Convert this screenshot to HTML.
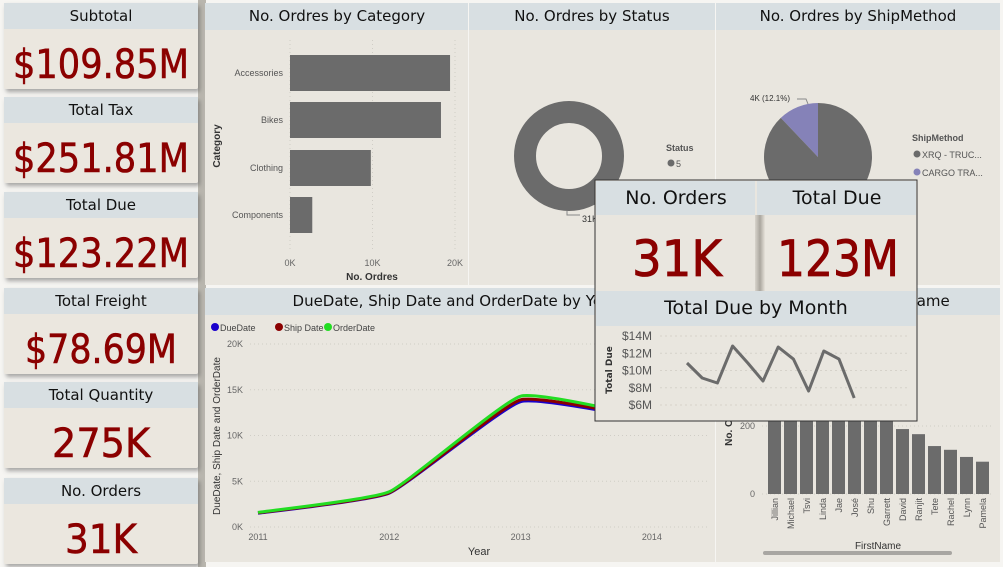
<!DOCTYPE html>
<html><head><meta charset="utf-8"><style>
html,body{margin:0;padding:0;background:#fff;width:1003px;height:567px;overflow:hidden;font-family:"DejaVu Sans","Liberation Sans",sans-serif}
svg{display:block}
.sm{font-family:"Liberation Sans",sans-serif}
</style></head><body>
<svg id="s" width="1003" height="567" viewBox="0 0 1003 567" xmlns="http://www.w3.org/2000/svg">
<defs>
<filter id="sh" x="-10%" y="-10%" width="130%" height="140%"><feDropShadow dx="2" dy="3" stdDeviation="2" flood-color="#555" flood-opacity="0.5"/></filter>
<linearGradient id="dv" x1="0" x2="1"><stop offset="0" stop-color="#d8d4cc"/><stop offset="0.5" stop-color="#aaa69e"/><stop offset="1" stop-color="#e6e2da"/></linearGradient>
</defs>
<rect x="0" y="0" width="1003" height="567" fill="#f6f5f2"/>
<rect x="198" y="0" width="8" height="567" fill="#b9b6ae"/>
<g id="cards"></g>
<g>
<rect x="205" y="3" width="263" height="282" fill="#e9e6df"/>
<rect x="205" y="3" width="263" height="27" fill="#d8dfe2"/>
<text x="337" y="21" font-size="15" text-anchor="middle" fill="#111">No. Ordres by Category</text>
</g>
<g>
<rect x="469" y="3" width="246" height="282" fill="#e9e6df"/>
<rect x="469" y="3" width="246" height="27" fill="#d8dfe2"/>
<text x="592" y="21" font-size="15" text-anchor="middle" fill="#111">No. Ordres by Status</text>
</g>
<g>
<rect x="716" y="3" width="284" height="282" fill="#e9e6df"/>
<rect x="716" y="3" width="284" height="27" fill="#d8dfe2"/>
<text x="858" y="21" font-size="15" text-anchor="middle" fill="#111">No. Ordres by ShipMethod</text>
</g>
<g>
<rect x="205" y="288" width="510" height="274" fill="#e9e6df"/>
<rect x="205" y="288" width="510" height="27" fill="#d8dfe2"/>
<text x="455" y="306" font-size="15" text-anchor="middle" fill="#111">DueDate, Ship Date and OrderDate by Year</text>
</g>
<g>
<rect x="716" y="288" width="284" height="274" fill="#e9e6df"/>
<rect x="716" y="288" width="284" height="27" fill="#d8dfe2"/>
<text x="858" y="306" font-size="15" text-anchor="middle" fill="#111">No. Ordres by FirstName</text>
</g>
<g id="charts" class="sm"></g>
<g id="overlay"></g>
</svg>
<script>
const NS='http://www.w3.org/2000/svg';
const svg=document.getElementById('s');
function mk(t,a,p,txt){const e=document.createElementNS(NS,t);for(const k in a)e.setAttribute(k,a[k]);if(txt!==undefined)e.textContent=txt;(p||svg).appendChild(e);return e;}

// ---- data ----
const cardTitles=['Subtotal','Total Tax','Total Due','Total Freight','Total Quantity','No. Orders'];
const cardValues=['$109.85M','$251.81M','$123.22M','$78.69M','275K','31K'];
const categories=['Accessories','Bikes','Clothing','Components'];
const categoryOrders=[19400,18300,9800,2700];
const categoryTicks=[0,10000,20000];
const statusValues=[31000];
const shipMethods=['XRQ - TRUC...','CARGO TRA...'];
const shipShares=[87.9,12.1];
const years=[2011,2012,2013,2014];
const dueDate=[1500,3700,13700,11700];
const shipDate=[1550,3750,13900,11800];
const orderDate=[1600,3850,14300,11900];
const dateTicks=[0,5000,10000,15000,20000];
const firstNames=['Jillian','Michael','Tsvi','Linda','Jae','José','Shu','Garrett','David','Ranjit','Tete','Rachel','Lynn','Pamela'];
const firstNameOrders=[420,400,385,370,355,345,330,300,191,176,141,130,109,95];
const nameTicks=[0,200];
const monthDue=[10.87,9.13,8.55,12.84,10.87,8.78,12.72,11.33,7.62,12.26,11.33,6.81];
const monthTicks=[6,8,10,12,14];

// ---- KPI cards ----
const cg=document.getElementById('cards');
const cardTops=[3,97,192,288,382,478];
cardTitles.forEach((t,i)=>{
  const y=cardTops[i];
  const g=mk('g',{},cg);
  
  
  mk('rect',{x:4,y:y,width:194,height:86,fill:'#ebe7df',rx:2,filter:'url(#sh)'},g);
  mk('rect',{x:4,y:y,width:194,height:26,fill:'#d8dfe2'},g);
  const tt=mk('text',{x:101,y:y+18,'font-size':15,'text-anchor':'middle',fill:'#111'},g,t);
  
  
  const v=cardValues[i];
  const a={x:101,y:y+75,'font-size':40,'text-anchor':'middle',fill:'#8b0000',stroke:'#8b0000','stroke-width':0.6};
  if(v.length>5){a.textLength=v.length>7?176:152;a.lengthAdjust='spacingAndGlyphs';}
  else if(v.length===4){a.textLength=98;a.lengthAdjust='spacingAndGlyphs';}
  else {a.textLength=72;a.lengthAdjust='spacingAndGlyphs';}
  const tv=mk('text',a,g,v);
  
  
});

const ch=document.getElementById('charts');
// ---- category bar chart ----
const cx0=290,cx1=455;
const xCat=v=>cx0+(v-0)/(20000)*(cx1-cx0);
const catY=[55,102,150,197];
categoryTicks.forEach(t=>{
  mk('line',{x1:xCat(t),x2:xCat(t),y1:40,y2:252,stroke:'#d0cdc6','stroke-dasharray':'1,3'},ch);
  const e=mk('text',{x:xCat(t),y:266,'font-size':9,'text-anchor':'middle',fill:'#666'},ch,(t/1000)+'K');
  
  
});
categories.forEach((c,i)=>{
  const b=mk('rect',{x:xCat(0),y:catY[i],width:xCat(categoryOrders[i])-xCat(0),height:36,fill:'#6b6b6b'},ch);
  
  
  const l=mk('text',{x:283,y:catY[i]+21,'font-size':9,'text-anchor':'end',fill:'#555'},ch,c);
  
  
});
let e=mk('text',{x:372,y:280,'font-size':10,'font-weight':'bold','text-anchor':'middle',fill:'#333'},ch,'No. Ordres');

e=mk('text',{x:0,y:0,'font-size':10,'font-weight':'bold','text-anchor':'middle',fill:'#333',transform:'translate(220,146) rotate(-90)'},ch,'Category');


// ---- donut ----
const total=statusValues.reduce((a,b)=>a+b,0);
statusValues.forEach((v,i)=>{
  const d=mk('circle',{cx:569,cy:156,r:44,fill:'none',stroke:'#6b6b6b','stroke-width':22},ch);
  
  
});
mk('polyline',{points:'567,211 567,215 580,215',fill:'none',stroke:'#888','stroke-width':1},ch);
e=mk('text',{x:582,y:222,'font-size':9,fill:'#333'},ch,Math.round(total/1000)+'K');

e=mk('text',{x:666,y:151,'font-size':9,'font-weight':'bold',fill:'#555'},ch,'Status');

mk('circle',{cx:671,cy:163,r:3.5,fill:'#6b6b6b'},ch);
e=mk('text',{x:676,y:167,'font-size':9,fill:'#555'},ch,'5');


// ---- pie ----
const pcx=818,pcy=157,pr=54;const pieColors=['#6b6b6b','#8582b8'];
const sumS=shipShares.reduce((a,b)=>a+b,0);
const order=[1,0];
let start=-Math.PI/2;
order.forEach(idx=>{
  const sweep=shipShares[idx]/sumS*2*Math.PI;
  const a0=start-sweep,a1=start;
  const x0=pcx+pr*Math.cos(a0),y0=pcy+pr*Math.sin(a0),x1=pcx+pr*Math.cos(a1),y1=pcy+pr*Math.sin(a1);
  const p=mk('path',{d:`M${pcx},${pcy} L${x0},${y0} A${pr},${pr} 0 ${sweep>Math.PI?1:0} 1 ${x1},${y1} Z`,fill:pieColors[idx]},ch);
  
  
  start=a0;
});
mk('polyline',{points:'797,99 806,99 808,104',fill:'none',stroke:'#888'},ch);
e=mk('text',{x:750,y:101,'font-size':8,fill:'#333'},ch,'4K ('+shipShares[1]+'%)');

e=mk('text',{x:912,y:141,'font-size':9,'font-weight':'bold',fill:'#555'},ch,'ShipMethod');

shipMethods.forEach((m,i)=>{
  mk('circle',{cx:917,cy:154+i*18,r:3.5,fill:pieColors[i]},ch);
  const t=mk('text',{x:922,y:158+i*18,'font-size':9,fill:'#555'},ch,m);
  
  
});

// ---- date lines ----
const lx=y=>258+(y-2011)*131.3;
const ly=v=>527-v/20000*183;
dateTicks.forEach(t=>{
  mk('line',{x1:250,x2:710,y1:ly(t),y2:ly(t),stroke:'#d0cdc6','stroke-dasharray':'1,3'},ch);
  const tt=mk('text',{x:243,y:ly(t)+3,'font-size':9,'text-anchor':'end',fill:'#666'},ch,(t/1000)+'K');
  
  
});
years.forEach(y=>{
  const tt=mk('text',{x:lx(y),y:540,'font-size':9,'text-anchor':'middle',fill:'#666'},ch,y);
  
  
});
function smooth(vals){
  const pts=vals.map((v,i)=>[lx(years[i]),ly(v)]);
  let d='M'+pts[0][0]+','+pts[0][1];
  const t=0.2/3;
  for(let i=0;i<pts.length-1;i++){
    const p0=pts[i-1]||pts[i],p1=pts[i],p2=pts[i+1],p3=pts[i+2]||p2;
    d+=` C${p1[0]+(p2[0]-p0[0])*t},${p1[1]+(p2[1]-p0[1])*t} ${p2[0]-(p3[0]-p1[0])*t},${p2[1]-(p3[1]-p1[1])*t} ${p2[0]},${p2[1]}`;
  }
  return d;
}
[[dueDate,'#1a00cc','line-duedate'],[shipDate,'#8b0000','line-shipdate'],[orderDate,'#22dd22','line-orderdate']].forEach(s=>{
  const p=mk('path',{d:smooth(s[0]),fill:'none',stroke:s[1],'stroke-width':3,'stroke-linejoin':'round'},ch);
  
  
});
[['DueDate','#1a00cc',215],['Ship Date','#8b0000',279],['OrderDate','#22dd22',328]].forEach(l=>{
  mk('circle',{cx:l[2],cy:327,r:4,fill:l[1]},ch);
  const t=mk('text',{x:l[2]+5,y:331,'font-size':9,fill:'#444'},ch,l[0]);
  
  
});
e=mk('text',{x:479,y:555,'font-size':11,'text-anchor':'middle',fill:'#333'},ch,'Year');

e=mk('text',{x:0,y:0,'font-size':10,'text-anchor':'middle',fill:'#333',transform:'translate(220,436) rotate(-90)'},ch,'DueDate, Ship Date and OrderDate');


// ---- first name bars ----
const by=v=>494-v/200*68;
nameTicks.forEach(t=>{
  mk('line',{x1:762,x2:992,y1:by(t),y2:by(t),stroke:'#d0cdc6','stroke-dasharray':'1,3'},ch);
  const tt=mk('text',{x:755,y:by(t)+3,'font-size':9,'text-anchor':'end',fill:'#666'},ch,t);
  
  
});
firstNames.forEach((n,i)=>{
  const x=768+i*16;
  const b=mk('rect',{x:x,y:by(firstNameOrders[i]),width:13,height:by(0)-by(firstNameOrders[i]),fill:'#6b6b6b'},ch);
  
  
  const t=mk('text',{x:0,y:0,'font-size':9,'text-anchor':'end',fill:'#555',transform:`translate(${x+10},498) rotate(-90)`},ch,n);
  
  
});
e=mk('text',{x:878,y:549,'font-size':10,'text-anchor':'middle',fill:'#333'},ch,'FirstName');

e=mk('rect',{x:763,y:551,width:189,height:4,rx:2,fill:'#a8a6a2'},ch);

e=mk('text',{x:0,y:0,'font-size':10,'font-weight':'bold','text-anchor':'middle',fill:'#333',transform:'translate(732,420) rotate(-90)'},ch,'No. Ordres');


// ---- overlay ----
const ov=document.getElementById('overlay');
mk('rect',{x:595,y:180,width:322,height:241,fill:'#e9e6df',stroke:'#333','stroke-width':1},ov);
mk('rect',{x:596,y:181,width:159,height:34,fill:'#d8dfe2'},ov);
mk('rect',{x:757,y:181,width:159,height:34,fill:'#d8dfe2'},ov);
mk('rect',{x:755,y:215,width:10,height:76,fill:'url(#dv)'},ov);
e=mk('text',{x:676,y:204,'font-size':19,'text-anchor':'middle',fill:'#111'},ov,'No. Orders');

e=mk('text',{x:837,y:204,'font-size':19,'text-anchor':'middle',fill:'#111'},ov,'Total Due');

e=mk('text',{x:677,y:276,'font-size':50,'text-anchor':'middle',fill:'#8b0000',stroke:'#8b0000','stroke-width':0.8,textLength:90,lengthAdjust:'spacingAndGlyphs'},ov,'31K');

e=mk('text',{x:838,y:276,'font-size':50,'text-anchor':'middle',fill:'#8b0000',stroke:'#8b0000','stroke-width':0.8,textLength:122,lengthAdjust:'spacingAndGlyphs'},ov,'123M');

mk('rect',{x:596,y:291,width:320,height:35,fill:'#d8dfe2'},ov);
e=mk('text',{x:756,y:314,'font-size':19,'text-anchor':'middle',fill:'#111'},ov,'Total Due by Month');

const my=v=>405-(v-6)/8*69;
const mx=i=>687+i*15.2;
monthTicks.forEach(t=>{
  mk('line',{x1:660,x2:910,y1:my(t),y2:my(t),stroke:'#d6d2ca','stroke-dasharray':'2,3'},ov);
  const tt=mk('text',{x:652,y:my(t)+4,'font-size':12,'text-anchor':'end',fill:'#555','font-family':'Liberation Sans, sans-serif'},ov,'$'+t+'M');
  
  
});
e=mk('polyline',{points:monthDue.map((v,i)=>mx(i)+','+my(v)).join(' '),fill:'none',stroke:'#6b6b6b','stroke-width':3,'stroke-linejoin':'round'},ov);

e=mk('text',{x:0,y:0,'font-size':9,'font-weight':'bold','text-anchor':'middle',fill:'#333',transform:'translate(612,370) rotate(-90)'},ov,'Total Due');

</script>
</body></html>
